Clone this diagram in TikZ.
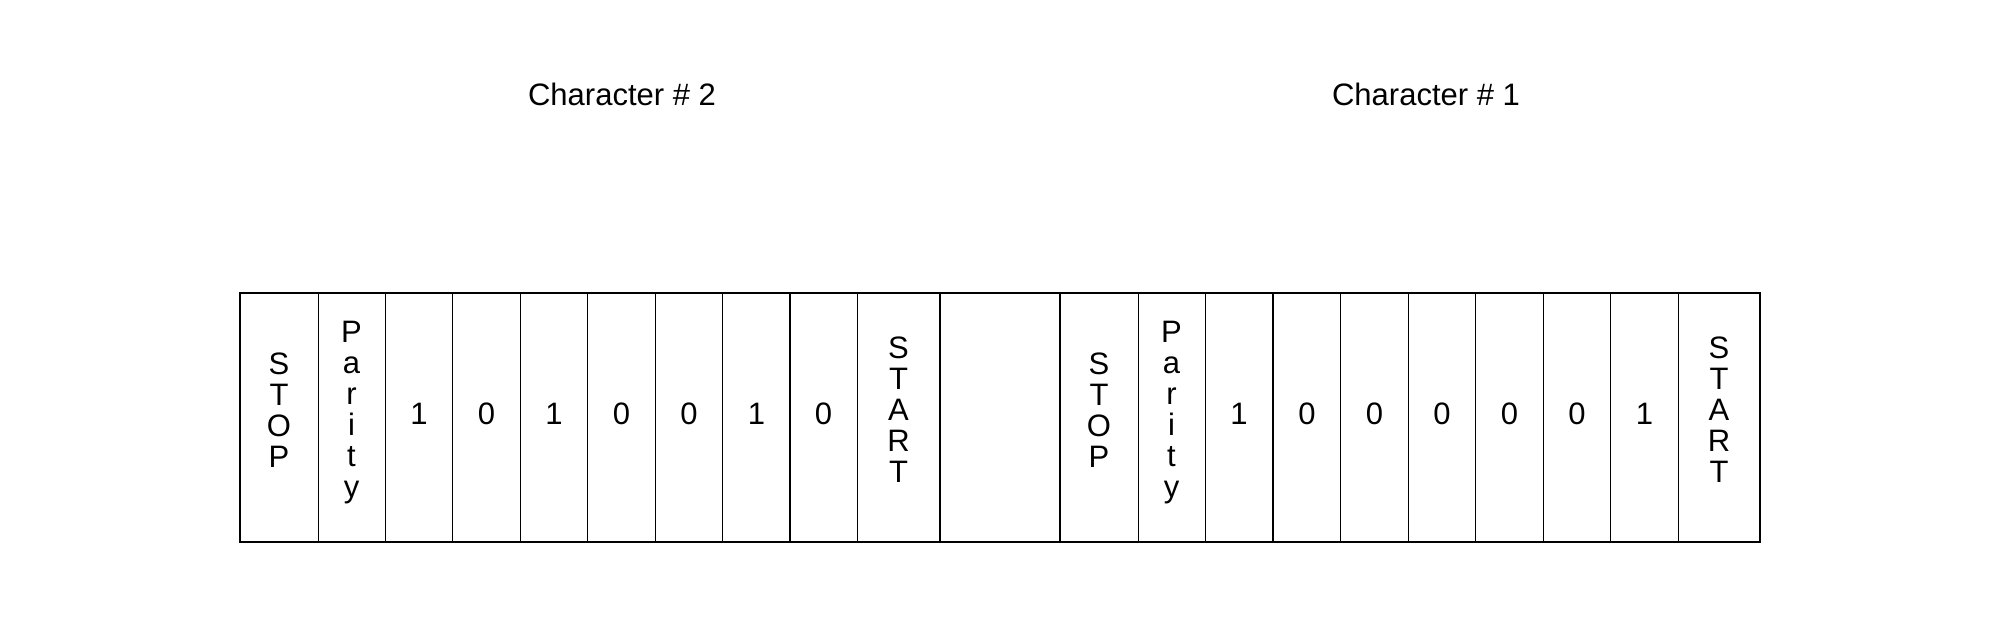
\documentclass[tikz,border=0pt]{standalone}
\usepackage{fontspec}
\setmainfont{Liberation Sans}
\begin{document}
\begin{tikzpicture}[x=1pt,y=-1pt,
  cell/.style={draw, line width=1pt, minimum height=249pt, inner sep=0pt,
    outer sep=0pt, font=\fontsize{31}{31}\selectfont},
  bitcell/.style={cell, minimum width=67.5pt, text depth=7pt},
  vtext/.style={align=center, inner sep=0pt, font=\fontsize{31}{31}\selectfont},
  title/.style={font=\fontsize{31}{36}\selectfont}]
  \useasboundingbox (0,0) rectangle (2000,628);
  % titulos
  \node[title] (titletwo) at (622,94) {Character \# 2};
  \node[title] (titleone) at (1426,94) {Character \# 1};
  % caractere 2
  \node[cell, minimum width=78pt,
    label={[vtext, yshift=7pt]center:{S\\T\\O\\P}}] (stoptwo) at (279,417.5) {};
  \node[cell, minimum width=67pt,
    label={[vtext, yshift=5pt]center:{P\\a\\r\\i\\t\\y}}] (paritytwo) at (351.5,417.5) {};
  \node[bitcell] (bittwoa) at (419,417.5) {1};
  \node[bitcell] (bittwob) at (486.5,417.5) {0};
  \node[bitcell] (bittwoc) at (554,417.5) {1};
  \node[bitcell] (bittwod) at (621.5,417.5) {0};
  \node[bitcell] (bittwoe) at (689,417.5) {0};
  \node[bitcell] (bittwof) at (756.5,417.5) {1};
  \node[bitcell] (bittwog) at (823.5,417.5) {0};
  \node[cell, minimum width=83pt,
    label={[vtext, yshift=7.5pt]center:{S\\T\\A\\R\\T}}] (starttwo) at (898.5,417.5) {};
  % intervalo
  \node[cell, minimum width=120pt, line width=2pt] (gap) at (1000,417.5) {};
  % caractere 1
  \node[cell, minimum width=78pt,
    label={[vtext, yshift=7pt]center:{S\\T\\O\\P}}] (stopone) at (1099,417.5) {};
  \node[cell, minimum width=67pt,
    label={[vtext, yshift=5pt]center:{P\\a\\r\\i\\t\\y}}] (parityone) at (1171.5,417.5) {};
  \node[bitcell] (bitonea) at (1239,417.5) {1};
  \node[bitcell] (bitoneb) at (1307,417.5) {0};
  \node[bitcell] (bitonec) at (1374.5,417.5) {0};
  \node[bitcell] (bitoned) at (1442,417.5) {0};
  \node[bitcell] (bitonee) at (1509.5,417.5) {0};
  \node[bitcell] (bitonef) at (1577,417.5) {0};
  \node[bitcell] (bitoneg) at (1644.5,417.5) {1};
  \node[cell, minimum width=82pt,
    label={[vtext, yshift=7.5pt]center:{S\\T\\A\\R\\T}}] (startone) at (1719,417.5) {};
  % contorno
  \draw[line width=2pt] (stoptwo.north west) rectangle (startone.south east);
\end{tikzpicture}
\end{document}
